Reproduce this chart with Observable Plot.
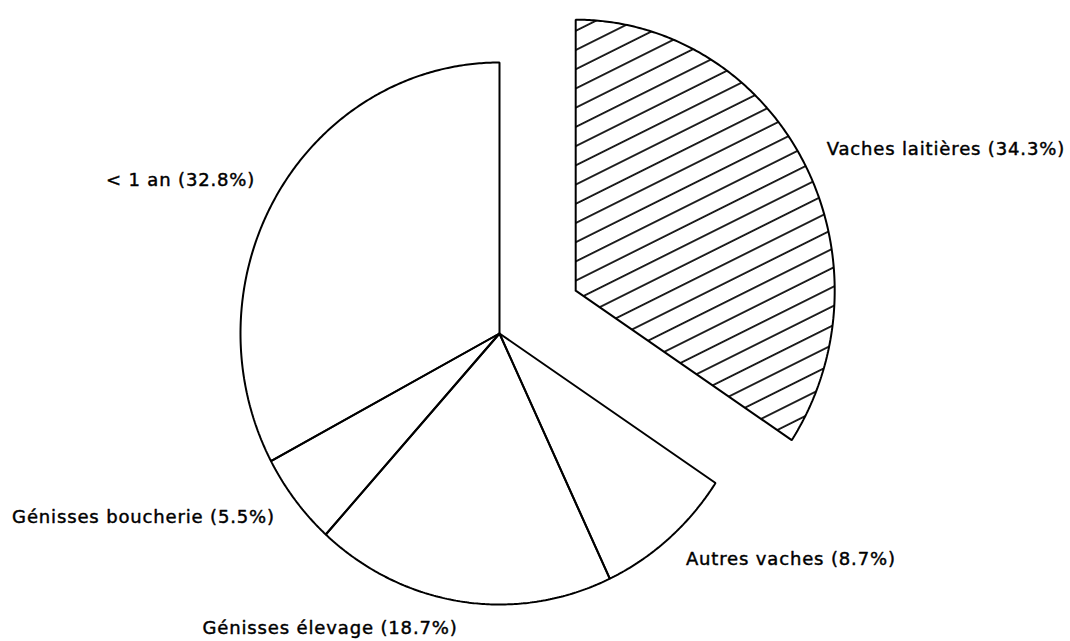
<!DOCTYPE html>
<html><head><meta charset="utf-8">
<script src="https://cdn.jsdelivr.net/npm/d3@7"></script>
<script src="https://cdn.jsdelivr.net/npm/@observablehq/plot@0.6"></script>
<style>body{margin:0;background:#fff}</style>
</head><body><div id="chart"></div>
<script>
// ---- data ----
const categories = ["Vaches laitières", "Autres vaches", "Génisses élevage", "Génisses boucherie", "< 1 an"];
const shares = [34.3, 8.7, 18.7, 5.5, 32.8];
const explodedSlices = ["Vaches laitières"];
const hatchedSlices = ["Vaches laitières"];

// ---- geometry in radius units (pie radius = 1, clockwise from top) ----
const total = d3.sum(shares);
const explodeDist = 0.334;
const labelRadius = 1.1;
let acc = 0;
const outline = [];
const labels = [];
categories.forEach((c, i) => {
  const a0 = acc / total * 2 * Math.PI; acc += shares[i]; const a1 = acc / total * 2 * Math.PI;
  const mid = (a0 + a1) / 2;
  const off = explodedSlices.includes(c) ? explodeDist : 0;
  const ox = off * Math.sin(mid), oy = off * Math.cos(mid);
  outline.push({slice: c, x: ox, y: oy});
  const n = Math.max(2, Math.ceil((a1 - a0) / (Math.PI / 360)));
  for (let k = 0; k <= n; k++) {
    const a = a0 + (a1 - a0) * k / n;
    outline.push({slice: c, x: ox + Math.sin(a), y: oy + Math.cos(a)});
  }
  outline.push({slice: c, x: ox, y: oy});
  labels.push({
    text: `${c} (${shares[i].toFixed(1)}%)`,
    x: ox + labelRadius * Math.sin(mid),
    y: oy + labelRadius * Math.cos(mid),
    side: Math.sin(mid) >= 0 ? "right" : "left"
  });
});

const font = "DejaVu Sans";
const chart = Plot.plot({
  width: 1070,
  height: 641,
  margin: 0,
  x: {domain: [-1, 1], range: [240, 758], axis: null},
  y: {domain: [-1, 1], range: [604, 62], axis: null},
  style: {fontFamily: font, background: "white"},
  marks: [
    Plot.line(outline.filter(d => hatchedSlices.includes(d.slice)), {x: "x", y: "y", z: "slice", fill: "url(#hatch)", stroke: "none"}),
    Plot.line(outline, {x: "x", y: "y", z: "slice", stroke: "black", strokeWidth: 2, fill: "none", strokeLinejoin: "miter"}),
    Plot.text(labels.filter(d => d.side === "right"), {x: "x", y: "y", text: "text", textAnchor: "start", fontSize: 18, fill: "black", stroke: "black", strokeWidth: 0.45}),
    Plot.text(labels.filter(d => d.side === "left"), {x: "x", y: "y", text: "text", textAnchor: "end", fontSize: 18, fill: "black", stroke: "black", strokeWidth: 0.45})
  ]
});

const svg = d3.select(chart);
const pat = svg.insert("defs", ":first-child").append("pattern")
  .attr("id", "hatch")
  .attr("patternUnits", "userSpaceOnUse")
  .attr("width", 17.2).attr("height", 17.2)
  .attr("patternTransform", "rotate(-26.5)");
pat.append("line").attr("x1", -1).attr("x2", 18.2).attr("y1", 8.6).attr("y2", 8.6)
  .attr("stroke", "black").attr("stroke-width", 1.7);
svg.selectAll("text").style("letter-spacing", "0.85px");
document.getElementById("chart").appendChild(chart);
</script>
</body></html>
